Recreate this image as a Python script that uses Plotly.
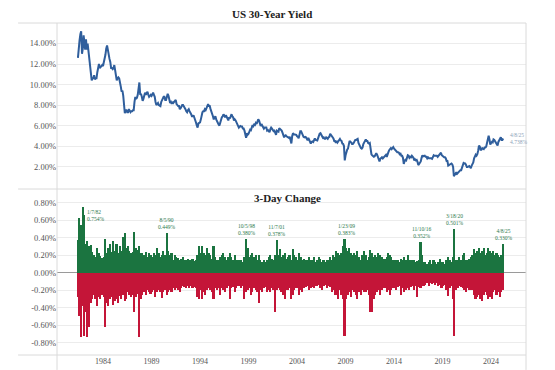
import pandas as pd
import plotly.graph_objects as go
from plotly.subplots import make_subplots

# ---- US 30-year yield, monthly readings (%), Jun 1981 .. Apr 2025 ----
yield_pct = [
    12.6, 13.8, 14.3, 14.9, 15.2, 13.0, 13.5,                                  # 1981 Jun-Dec
    14.8, 14.0, 13.4, 14.4, 13.4, 14.0, 13.3, 12.4, 12.0, 10.8, 10.4, 10.6,    # 1982
    10.6, 10.9, 10.5, 10.6, 10.6, 11.2, 11.6, 12.0, 11.6, 11.7, 11.8, 11.9,    # 1983
    11.8, 12.1, 12.6, 12.9, 13.5, 13.8, 13.4, 12.8, 12.5, 12.2, 11.6, 11.6,    # 1984
    11.5, 11.6, 11.9, 11.4, 11.0, 10.4, 10.6, 10.7, 10.6, 10.3, 9.8, 9.3,      # 1985
    9.4, 8.9, 7.9, 7.2, 7.5, 7.5, 7.3, 7.3, 7.6, 7.4, 7.3, 7.4,                # 1986
    7.4, 7.5, 7.5, 8.3, 8.8, 8.6, 8.7, 9.0, 9.6, 10.2, 9.0, 9.1,               # 1987
    8.8, 8.4, 8.6, 8.9, 9.2, 9.0, 9.1, 9.3, 9.0, 8.8, 8.9, 9.0,                # 1988
    8.9, 9.0, 9.2, 9.0, 8.8, 8.3, 8.0, 8.1, 8.2, 8.0, 7.9, 7.9,                # 1989
    8.3, 8.5, 8.6, 8.8, 8.8, 8.5, 8.5, 8.9, 9.1, 8.9, 8.5, 8.2,                # 1990
    8.3, 8.1, 8.3, 8.2, 8.3, 8.5, 8.5, 8.1, 7.9, 7.9, 7.9, 7.6,                # 1991
    7.7, 7.9, 8.0, 8.0, 7.9, 7.8, 7.6, 7.4, 7.3, 7.5, 7.6, 7.4,                # 1992
    7.3, 7.1, 6.9, 6.9, 7.0, 6.8, 6.6, 6.3, 6.0, 5.8, 6.2, 6.3,                # 1993
    6.3, 6.6, 7.0, 7.3, 7.4, 7.4, 7.6, 7.5, 7.7, 7.9, 8.1, 7.9,                # 1994
    7.9, 7.6, 7.4, 7.3, 6.9, 6.6, 6.8, 6.9, 6.6, 6.4, 6.3, 6.1,                # 1995
    6.0, 6.3, 6.6, 6.8, 6.9, 7.1, 7.0, 6.8, 7.0, 6.8, 6.5, 6.5,                # 1996
    6.8, 6.7, 6.9, 7.1, 6.9, 6.8, 6.5, 6.6, 6.5, 6.3, 6.1, 5.95,               # 1997
    5.8, 5.9, 5.95, 5.9, 5.9, 5.7, 5.7, 5.5, 5.2, 4.8, 5.25, 5.1,              # 1998
    5.2, 5.4, 5.6, 5.55, 5.8, 6.05, 5.95, 6.1, 6.05, 6.25, 6.15, 6.35,         # 1999
    6.6, 6.5, 6.25, 5.95, 6.15, 5.95, 5.85, 5.7, 5.8, 5.8, 5.8, 5.5,           # 2000
    5.55, 5.45, 5.35, 5.65, 5.8, 5.7, 5.6, 5.45, 5.5, 5.3, 5.1, 5.5,           # 2001
    5.45, 5.4, 5.75, 5.65, 5.65, 5.5, 5.3, 5.1, 4.85, 5.0, 5.05, 4.95,         # 2002
    4.9, 4.8, 4.8, 4.9, 4.5, 4.25, 4.95, 5.25, 5.15, 5.15, 5.15, 5.1,          # 2003
    4.95, 4.9, 4.75, 5.2, 5.45, 5.45, 5.25, 5.05, 4.9, 4.85, 4.9, 4.85,        # 2004
    4.65, 4.55, 4.8, 4.6, 4.4, 4.25, 4.4, 4.45, 4.4, 4.65, 4.75, 4.6,          # 2005
    4.55, 4.55, 4.75, 5.05, 5.2, 5.25, 5.15, 4.95, 4.8, 4.85, 4.7, 4.7,        # 2006
    4.85, 4.8, 4.7, 4.85, 4.9, 5.2, 5.1, 4.95, 4.8, 4.75, 4.5, 4.5,            # 2007
    4.3, 4.5, 4.35, 4.45, 4.6, 4.7, 4.55, 4.5, 4.25, 4.2, 4.0, 2.6,            # 2008
    3.1, 3.6, 3.65, 3.75, 4.2, 4.5, 4.4, 4.35, 4.2, 4.2, 4.3, 4.5,             # 2009
    4.6, 4.6, 4.65, 4.7, 4.3, 4.1, 4.0, 3.8, 3.75, 3.85, 4.2, 4.4,             # 2010
    4.5, 4.65, 4.5, 4.5, 4.3, 4.25, 4.3, 3.65, 3.2, 3.1, 3.05, 2.95,           # 2011
    3.0, 3.1, 3.3, 3.15, 2.9, 2.7, 2.5, 2.75, 2.9, 2.9, 2.8, 2.9,              # 2012
    3.05, 3.15, 3.15, 2.95, 3.1, 3.4, 3.6, 3.75, 3.8, 3.7, 3.8, 3.9,           # 2013
    3.75, 3.65, 3.6, 3.5, 3.4, 3.4, 3.35, 3.2, 3.25, 3.05, 3.05, 2.85,         # 2014
    2.25, 2.55, 2.65, 2.6, 2.95, 3.1, 3.05, 2.85, 2.95, 2.9, 3.05, 2.95,       # 2015
    2.85, 2.6, 2.7, 2.6, 2.65, 2.45, 2.15, 2.25, 2.35, 2.5, 2.85, 3.1,         # 2016
    3.0, 3.0, 3.05, 2.95, 2.95, 2.8, 2.9, 2.8, 2.8, 2.85, 2.8, 2.75,           # 2017
    2.9, 3.1, 3.05, 3.05, 3.1, 3.05, 2.95, 3.05, 3.15, 3.35, 3.35, 3.1,        # 2018
    3.0, 3.0, 2.9, 2.9, 2.8, 2.55, 2.55, 2.1, 2.15, 2.2, 2.3, 2.3,             # 2019
    2.2, 1.95, 1.05, 1.25, 1.35, 1.45, 1.3, 1.4, 1.45, 1.6, 1.65, 1.65,        # 2020
    1.85, 2.05, 2.35, 2.3, 2.3, 2.15, 1.95, 1.95, 2.0, 2.05, 1.95, 1.85,       # 2021
    2.1, 2.25, 2.4, 2.8, 3.05, 3.15, 3.05, 3.2, 3.55, 4.05, 3.95, 3.65,        # 2022
    3.65, 3.8, 3.75, 3.7, 3.85, 3.85, 3.95, 4.3, 4.45, 5.0, 4.65, 4.15,        # 2023
    4.3, 4.4, 4.35, 4.65, 4.6, 4.45, 4.45, 4.15, 4.05, 4.4, 4.55, 4.6,         # 2024
    4.85, 4.6, 4.6, 4.74,                                                      # 2025 Jan-Apr
]

# ---- 3-day change (%), largest rise / largest fall per two-month block ----
chg_up = [
    0.37, 0.62, 0.55, 0.75,
    0.66, 0.33, 0.36, 0.30, 0.32, 0.24,
    0.20, 0.18, 0.28, 0.22, 0.19, 0.17,
    0.18, 0.39, 0.22, 0.28, 0.33, 0.24,
    0.36, 0.25, 0.33, 0.22, 0.30, 0.25,
    0.41, 0.45, 0.28, 0.30, 0.25, 0.22,
    0.24, 0.47, 0.28, 0.26, 0.30, 0.22,
    0.22, 0.20, 0.24, 0.18, 0.22, 0.20,
    0.18, 0.22, 0.20, 0.28, 0.22, 0.18,
    0.20, 0.25, 0.20, 0.45, 0.25, 0.20,
    0.22, 0.15, 0.20, 0.18, 0.17, 0.15,
    0.16, 0.18, 0.15, 0.14, 0.16, 0.15,
    0.14, 0.16, 0.13, 0.15, 0.20, 0.30,
    0.22, 0.30, 0.22, 0.20, 0.28, 0.22,
    0.20, 0.16, 0.30, 0.18, 0.15, 0.14,
    0.18, 0.20, 0.22, 0.18, 0.15, 0.18,
    0.22, 0.18, 0.15, 0.20, 0.14, 0.15,
    0.14, 0.15, 0.12, 0.18, 0.38, 0.28,
    0.18, 0.20, 0.22, 0.18, 0.20, 0.15,
    0.20, 0.15, 0.12, 0.14, 0.12, 0.15,
    0.18, 0.20, 0.16, 0.15, 0.20, 0.378,
    0.20, 0.27, 0.18, 0.20, 0.22, 0.16,
    0.18, 0.20, 0.15, 0.27, 0.20, 0.18,
    0.15, 0.22, 0.18, 0.15, 0.16, 0.14,
    0.15, 0.18, 0.14, 0.15, 0.18, 0.12,
    0.14, 0.18, 0.16, 0.12, 0.14, 0.12,
    0.15, 0.14, 0.18, 0.15, 0.20, 0.18,
    0.25, 0.22, 0.20, 0.22, 0.30, 0.383,
    0.28, 0.25, 0.28, 0.22, 0.20, 0.22,
    0.20, 0.25, 0.18, 0.15, 0.20, 0.25,
    0.20, 0.15, 0.18, 0.26, 0.22, 0.18,
    0.20, 0.18, 0.22, 0.20, 0.18, 0.16,
    0.16, 0.18, 0.22, 0.20, 0.18, 0.15,
    0.14, 0.15, 0.14, 0.12, 0.16, 0.15,
    0.18, 0.15, 0.20, 0.14, 0.15, 0.14,
    0.14, 0.12, 0.13, 0.15, 0.352, 0.20,
    0.12, 0.12, 0.10, 0.12, 0.14, 0.10,
    0.15, 0.12, 0.10, 0.12, 0.16, 0.12,
    0.12, 0.10, 0.14, 0.18, 0.15, 0.12,
    0.18, 0.501, 0.15, 0.14, 0.18, 0.15,
    0.20, 0.22, 0.15, 0.14, 0.16, 0.18,
    0.20, 0.27, 0.22, 0.25, 0.28, 0.22,
    0.25, 0.28, 0.20, 0.22, 0.28, 0.25,
    0.22, 0.25, 0.20, 0.22, 0.20, 0.18,
    0.20, 0.33,
]
chg_down = [
    -0.28, -0.50, -0.73, -0.38,
    -0.72, -0.45, -0.73, -0.62, -0.35, -0.30,
    -0.25, -0.30, -0.38, -0.28, -0.30, -0.25,
    -0.28, -0.62, -0.35, -0.38, -0.30, -0.28,
    -0.37, -0.32, -0.30, -0.35, -0.27, -0.30,
    -0.25, -0.32, -0.30, -0.22, -0.26, -0.28,
    -0.25, -0.45, -0.28, -0.24, -0.73, -0.30,
    -0.25, -0.22, -0.25, -0.20, -0.22, -0.24,
    -0.22, -0.20, -0.28, -0.22, -0.20, -0.22,
    -0.29, -0.22, -0.20, -0.25, -0.22, -0.20,
    -0.22, -0.18, -0.20, -0.18, -0.20, -0.22,
    -0.18, -0.15, -0.16, -0.18, -0.15, -0.17,
    -0.15, -0.18, -0.16, -0.18, -0.28, -0.30,
    -0.20, -0.30, -0.22, -0.25, -0.20, -0.18,
    -0.20, -0.22, -0.30, -0.18, -0.20, -0.17,
    -0.25, -0.18, -0.20, -0.22, -0.18, -0.15,
    -0.30, -0.18, -0.16, -0.22, -0.18, -0.15,
    -0.15, -0.18, -0.15, -0.30, -0.22, -0.20,
    -0.18, -0.25, -0.22, -0.18, -0.20, -0.22,
    -0.35, -0.20, -0.22, -0.18, -0.16, -0.22,
    -0.20, -0.22, -0.18, -0.20, -0.45, -0.20,
    -0.18, -0.20, -0.22, -0.25, -0.30, -0.20,
    -0.20, -0.18, -0.30, -0.25, -0.20, -0.18,
    -0.18, -0.25, -0.20, -0.22, -0.18, -0.16,
    -0.15, -0.20, -0.18, -0.16, -0.18, -0.15,
    -0.15, -0.14, -0.18, -0.20, -0.15, -0.14,
    -0.18, -0.15, -0.16, -0.22, -0.20, -0.25,
    -0.25, -0.30, -0.20, -0.25, -0.30, -0.72,
    -0.30, -0.25, -0.22, -0.28, -0.20, -0.22,
    -0.25, -0.30, -0.22, -0.25, -0.20, -0.22,
    -0.22, -0.20, -0.25, -0.45, -0.45, -0.30,
    -0.25, -0.22, -0.20, -0.25, -0.20, -0.18,
    -0.18, -0.22, -0.20, -0.25, -0.20, -0.18,
    -0.18, -0.20, -0.16, -0.15, -0.25, -0.18,
    -0.22, -0.20, -0.18, -0.20, -0.16, -0.15,
    -0.20, -0.15, -0.28, -0.16, -0.18, -0.15,
    -0.15, -0.14, -0.12, -0.15, -0.12, -0.13,
    -0.12, -0.14, -0.12, -0.15, -0.14, -0.18,
    -0.15, -0.14, -0.20, -0.27, -0.18, -0.15,
    -0.30, -0.72, -0.20, -0.18, -0.15, -0.16,
    -0.18, -0.20, -0.22, -0.18, -0.20, -0.20,
    -0.20, -0.25, -0.30, -0.28, -0.25, -0.30,
    -0.32, -0.25, -0.22, -0.25, -0.30, -0.28,
    -0.30, -0.22, -0.20, -0.25, -0.22, -0.28,
    -0.22, -0.20,
]

# ---- labelled spikes ----
peak_dates = ["1982-01-07", "1990-08-05", "1998-10-05", "2001-11-07",
              "2009-01-23", "2016-11-10", "2020-03-18", "2025-04-08"]
peak_labels = ["1/7/82", "8/5/90", "10/5/98", "11/7/01",
               "1/23/09", "11/10/16", "3/18/20", "4/8/25"]
peak_values = [0.754, 0.449, 0.380, 0.378, 0.383, 0.352, 0.501, 0.330]

last_date, last_label, last_yield = "2025-04-08", "4/8/25", 4.738

year_ticks = [1984, 1989, 1994, 1999, 2004, 2009, 2014, 2019, 2024]
yield_ticks = [2, 4, 6, 8, 10, 12, 14]
chg_ticks = [-0.8, -0.6, -0.4, -0.2, 0.0, 0.2, 0.4, 0.6, 0.8]

yield_dates = pd.date_range("1981-06-01", periods=len(yield_pct), freq="MS")
chg_dates = pd.date_range("1981-06-01", periods=len(chg_up), freq="2MS")

SERIF = "Liberation Serif, Georgia, DejaVu Serif, serif"
GREEN = "#1b7440"
RED = "#c41538"
BLUE = "#2f5e9c"
GRID = "#ececec"
FRAME = "#dadada"

fig = make_subplots(rows=2, cols=1, shared_xaxes=False, vertical_spacing=0.0)

fig.add_trace(go.Scatter(x=yield_dates, y=yield_pct, mode="lines",
                         line=dict(color=BLUE, width=2), showlegend=False),
              row=1, col=1)
fig.add_trace(go.Bar(x=chg_dates, y=chg_up, marker=dict(color=GREEN, line=dict(width=0)),
                     showlegend=False), row=2, col=1)
fig.add_trace(go.Bar(x=chg_dates, y=chg_down, marker=dict(color=RED, line=dict(width=0)),
                     showlegend=False), row=2, col=1)

x_range = ["1979-04-05", "2027-08-07"]
tickvals = [f"{y}-01-01" for y in year_ticks]

fig.update_xaxes(range=x_range, showgrid=False, zeroline=False, showline=False,
                 tickvals=tickvals, ticktext=[str(y) for y in year_ticks],
                 tickfont=dict(family=SERIF, size=8, color="#555"), ticks="",
                 automargin=False)
fig.update_xaxes(showticklabels=False, row=1, col=1)

fig.update_yaxes(range=[-0.19, 16], tickvals=yield_ticks,
                 ticktext=[f"{v:.2f}%" for v in yield_ticks],
                 showgrid=True, gridcolor=GRID, zeroline=False, showline=False,
                 tickfont=dict(family=SERIF, size=8.5, color="#555"), ticks="",
                 automargin=False, row=1, col=1)
fig.update_yaxes(range=[-0.94, 0.956], tickvals=chg_ticks,
                 ticktext=[f"{v:.2f}%" for v in chg_ticks],
                 showgrid=True, gridcolor=GRID, zeroline=True, zerolinecolor="#9a9a9a",
                 zerolinewidth=1, showline=False,
                 tickfont=dict(family=SERIF, size=8.5, color="#555"), ticks="",
                 automargin=False, row=2, col=1)

# the page body adds an 8px offset, so the figure is sized to fit the window
fig.update_layout(
    width=547, height=362,
    margin=dict(l=49, r=29, t=15, b=15),
    paper_bgcolor="white", plot_bgcolor="white",
    bargap=0, barmode="overlay",
    font=dict(family=SERIF),
)
fig.layout.yaxis.domain = [0.5, 1.0]
fig.layout.yaxis2.domain = [0.0, 0.5]

# frame lines
shapes = []
for yy in (0.0, 0.5, 1.0):
    shapes.append(dict(type="line", xref="paper", yref="paper", x0=-0.083, x1=1.0,
                       y0=yy, y1=yy, line=dict(color=FRAME, width=1)))
for xx in (0.0, 1.0):
    shapes.append(dict(type="line", xref="paper", yref="paper", x0=xx, x1=xx,
                       y0=-0.045, y1=1.0, line=dict(color=FRAME, width=1)))
fig.update_layout(shapes=shapes)

# titles
fig.add_annotation(text="<b>US 30-Year Yield</b>", xref="paper", yref="paper",
                   x=0.458, y=1.027, xanchor="center", yanchor="middle", showarrow=False,
                   font=dict(family=SERIF, size=11, color="#222"))
fig.add_annotation(text="<b>3-Day Change</b>", xref="paper", yref="paper",
                   x=0.4925, y=0.473, xanchor="center", yanchor="middle", showarrow=False,
                   font=dict(family=SERIF, size=11, color="#222"))

# spike labels
for i, (d, lab, v) in enumerate(zip(peak_dates, peak_labels, peak_values)):
    if i == 0:
        fig.add_annotation(x=d, y=v, xref="x2", yref="y2", showarrow=False,
                           text=f"{lab}<br>{v:.3f}%", xanchor="left", yanchor="top",
                           xshift=1, yshift=0, align="left",
                           font=dict(family=SERIF, size=5.5, color="#2d7a4c"))
    else:
        fig.add_annotation(x=d, y=v, xref="x2", yref="y2", showarrow=False,
                           text=f"{lab}<br>{v:.3f}%", xanchor="center", yanchor="bottom",
                           yshift=1, align="center",
                           font=dict(family=SERIF, size=5.5, color="#2d7a4c"))

fig.add_annotation(x=last_date, y=last_yield, xref="x", yref="y", showarrow=False,
                   text=f"{last_label}<br>{last_yield:.3f}%", xanchor="left", yanchor="middle",
                   xshift=5, align="left",
                   font=dict(family=SERIF, size=5.5, color="#8da2b8"))

fig.write_html("out.html")
